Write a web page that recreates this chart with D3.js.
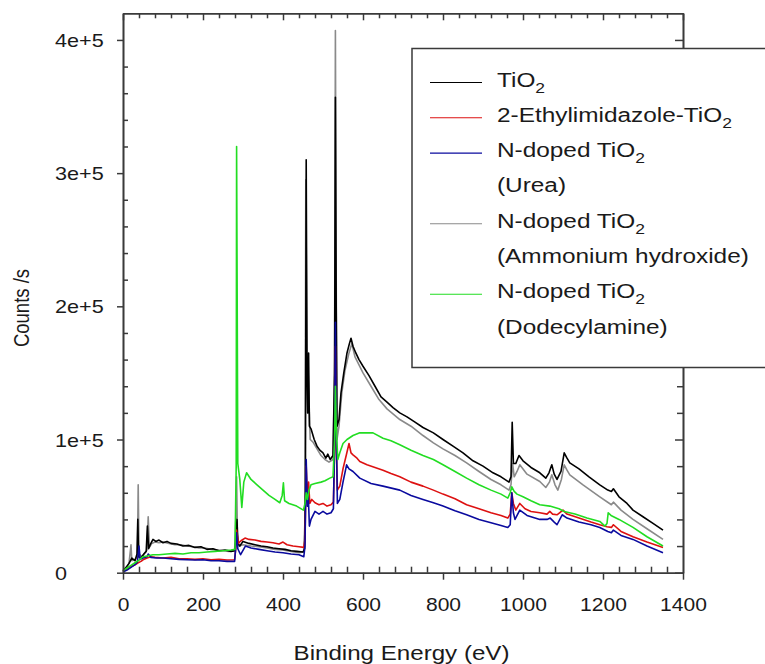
<!DOCTYPE html>
<html><head><meta charset="utf-8">
<script src="https://cdn.jsdelivr.net/npm/d3@7"></script>
<style>
body{margin:0;background:#fff}
svg{display:block}
text{font-family:"Liberation Sans",Arial,sans-serif;fill:#1a1a1a}
</style>
</head><body>
<svg id="c" width="765" height="664"></svg>
<script>
// ---------------- data (binding energy eV, counts/s) ----------------
const tio2 = [[0,1500],[8,4000],[15,7000],[22,11000],[30,9000],[35,14000],[37,40000],[39,12000],[45,11000],[52,14000],[58,16000],[61,35000],[64,18000],[68,21000],[75,25000],[82,23500],[90,24500],[100,22500],[110,23500],[120,22000],[135,21500],[150,20000],[165,20500],[180,19000],[195,19500],[210,17500],[225,18000],[240,16500],[255,17000],[270,16000],[280,16500],[283,30000],[285,40000],[287,22000],[292,20000],[300,23500],[315,22000],[330,21000],[345,20000],[360,19500],[375,18500],[390,18000],[405,17500],[420,16500],[435,16000],[450,15500],[454,18000],[456,60000],[458,310000],[460,150000],[462,120000],[464,165000],[466,110000],[470,108000],[478,100000],[485,95000],[492,92000],[500,90000],[507,86000],[512,89000],[518,85000],[525,88000],[529,150000],[531,357000],[533,200000],[535,110000],[540,115000],[545,135000],[552,150000],[560,165000],[566,172000],[570,176000],[575,170000],[582,165000],[590,160000],[600,155000],[615,148000],[630,140000],[645,132000],[660,128000],[675,124000],[692,120000],[710,117000],[730,113000],[750,109000],[776,105000],[800,100000],[825,95000],[850,90000],[875,84000],[900,80000],[925,75000],[945,72000],[965,68000],[970,72000],[973,113000],[976,82000],[982,82000],[990,88000],[1000,84000],[1020,79000],[1042,75000],[1057,71000],[1065,75000],[1072,81000],[1078,74000],[1085,70000],[1095,76000],[1103,90000],[1110,86000],[1117,82500],[1140,78000],[1165,72000],[1192,66000],[1212,62000],[1221,61000],[1226,63000],[1240,57000],[1260,52000],[1275,47000],[1300,42000],[1325,37000],[1350,32000]];

const ethylimidazole = [[0,1000],[10,2500],[20,4500],[30,6000],[38,7500],[45,8500],[50,9700],[60,11000],[70,12000],[80,11500],[100,11000],[120,11500],[140,10500],[160,10500],[180,10000],[200,10500],[220,9700],[240,10000],[260,9500],[279,9700],[282,18000],[284,32000],[288,22000],[295,24000],[305,26000],[315,25000],[330,24500],[345,23500],[360,23000],[375,22500],[390,21500],[400,23000],[410,21000],[425,20000],[440,19500],[452,19000],[455,25000],[458,80000],[461,55000],[464,68000],[467,52000],[472,55000],[480,52500],[490,51000],[500,52000],[510,50000],[520,51000],[526,53000],[529,90000],[531,170000],[533,100000],[536,62000],[542,65000],[550,78000],[558,88000],[565,97000],[570,90000],[575,88500],[585,86000],[592,83500],[610,81000],[630,79000],[650,77000],[670,74500],[692,72000],[720,68000],[750,65000],[776,62000],[800,59000],[830,55500],[859,51000],[890,48000],[920,45000],[945,43000],[962,41000],[968,44000],[972,60000],[976,52000],[982,47000],[992,52000],[1005,48000],[1020,46000],[1042,45000],[1060,44000],[1067,46000],[1074,44000],[1085,43500],[1100,47000],[1110,44000],[1140,41000],[1170,38000],[1192,36000],[1210,34500],[1221,34000],[1226,36000],[1245,31000],[1275,27000],[1310,23000],[1350,19000]];

const urea = [[0,500],[10,2000],[20,4000],[30,6000],[36,8000],[40,20000],[43,10000],[50,11000],[60,12000],[63,14000],[70,11500],[85,11000],[100,11000],[120,10500],[140,10000],[160,9700],[180,9500],[200,9700],[220,9000],[240,9000],[260,8500],[279,8500],[282,20000],[284,30000],[287,18000],[294,13500],[306,20000],[320,18500],[340,17500],[360,16500],[380,15500],[400,15000],[420,14000],[440,13500],[452,12000],[455,20000],[458,85000],[461,50000],[463,60000],[466,35000],[470,40000],[480,46000],[490,44000],[500,46000],[510,44000],[520,45000],[526,48000],[529,100000],[531,188000],[533,110000],[536,52000],[542,55000],[550,68000],[559,81000],[565,78000],[575,76000],[592,71000],[620,67000],[650,65000],[692,62000],[720,58000],[750,55000],[776,52500],[800,50000],[830,46500],[859,43500],[890,40000],[920,37500],[945,35500],[962,34000],[968,36000],[972,60000],[976,45000],[980,40000],[992,47000],[1010,43000],[1042,40000],[1060,40000],[1068,41000],[1078,38000],[1085,36000],[1098,43500],[1110,41000],[1140,38000],[1170,36000],[1192,34000],[1212,31000],[1221,30000],[1226,32000],[1245,28000],[1275,25000],[1310,20000],[1350,15000]];

const ammonium = [[0,1500],[8,4000],[15,7000],[20,21000],[22,9000],[30,10000],[36,12000],[38,66000],[40,14000],[48,12000],[55,15000],[60,17000],[63,42000],[66,19000],[72,22000],[80,23000],[90,22500],[100,23000],[115,22000],[130,21000],[145,21000],[160,20000],[175,19500],[190,18500],[205,18500],[220,17500],[235,17000],[250,16500],[265,16000],[279,16500],[282,40000],[284,72000],[286,30000],[290,20000],[300,21000],[320,20000],[340,19500],[360,18500],[380,17500],[400,17000],[420,16000],[440,15000],[452,15500],[455,40000],[457,295000],[459,200000],[461,120000],[463,150000],[465,130000],[468,100000],[475,98000],[485,93000],[495,88000],[505,85000],[515,83000],[525,85000],[529,160000],[531,407000],[533,220000],[535,100000],[540,110000],[547,135000],[555,152000],[565,165000],[572,172000],[580,162000],[590,156000],[600,150000],[620,140000],[640,130000],[660,123000],[692,115000],[720,110000],[750,103000],[776,97500],[800,93000],[830,88000],[859,82500],[890,76000],[920,70000],[945,66000],[965,62000],[970,66000],[974,82000],[978,72000],[985,76000],[992,81000],[1010,74000],[1042,68500],[1057,64000],[1066,68000],[1072,73500],[1080,66000],[1087,62000],[1096,70000],[1103,81000],[1110,77000],[1117,73500],[1150,66000],[1192,57000],[1221,51000],[1226,53000],[1245,47000],[1275,40000],[1310,33000],[1350,25000]];

const dodecylamine = [[0,1500],[10,3500],[20,5500],[30,7500],[40,9500],[50,12000],[60,12500],[75,13500],[90,13500],[110,14000],[130,14500],[150,14000],[170,15000],[190,15000],[210,15500],[230,16000],[250,16500],[270,17000],[280,17500],[283,80000],[284,320000],[285,243000],[287,82000],[292,70000],[297,49000],[302,68000],[309,75000],[320,70000],[335,66000],[350,62000],[365,58000],[380,55000],[392,52500],[398,58000],[401,67500],[404,54000],[415,52000],[434,50000],[451,47000],[455,52000],[458,60000],[461,55000],[465,62000],[470,66000],[480,67000],[495,68000],[505,69000],[517,71000],[525,72000],[529,100000],[531,140000],[533,110000],[537,85000],[542,90000],[550,97000],[560,100000],[575,103000],[592,105000],[610,105000],[625,105000],[650,101000],[670,99000],[692,96000],[720,92000],[750,88000],[776,85000],[800,81000],[830,76000],[859,71000],[890,66000],[920,62000],[945,59000],[962,56000],[968,60000],[972,64500],[978,61000],[985,59000],[1000,57000],[1020,54000],[1042,51000],[1067,50000],[1090,48000],[1103,46000],[1130,44000],[1160,41000],[1192,38500],[1205,35000],[1210,37000],[1213,45000],[1220,43000],[1240,40000],[1275,34000],[1310,27000],[1350,20000]];

const seriesNames = ["TiO2","2-Ethylimidazole-TiO2","N-doped TiO2 (Urea)","N-doped TiO2 (Ammonium hydroxide)","N-doped TiO2 (Dodecylamine)"];
const xTicks = [0,200,400,600,800,1000,1200,1400];
const yTicks = [0,100000,200000,300000,400000];
const yTickLabels = ["0","1e+5","2e+5","3e+5","4e+5"];
const xLabel = "Binding Energy (eV)";
const yLabel = "Counts /s";
// legend text lines: [main, subscript] pairs per line
const legendLines = [
  [["TiO","2"]],
  [["2-Ethylimidazole-TiO","2"]],
  [["N-doped TiO","2"],["(Urea)",""]],
  [["N-doped TiO","2"],["(Ammonium hydroxide)",""]],
  [["N-doped TiO","2"],["(Dodecylamine)",""]]
];

// ---------------- layout ----------------
const colors = ["#000000","#dd1111","#0a0a9e","#8a8a8a","#22dd22"];
const svg = d3.select("#c");
const L=123, R=683, T=13.3, B=572.7;
const x = d3.scaleLinear().domain([0,1400]).range([L,R]);
const y = d3.scaleLinear().domain([0,420000]).range([B,T]);

const data = [tio2, ethylimidazole, urea, ammonium, dodecylamine];
const line = d3.line().x(d=>x(d[0])).y(d=>y(d[1]));
const drawOrder = [3,0,1,2,4];
const lg = svg.append("g");
drawOrder.forEach(i=>{
  lg.append("path").datum(data[i]).attr("d",line)
    .attr("fill","none").attr("stroke",colors[i]).attr("stroke-width",1.6)
    .attr("stroke-linejoin","round");
});

// ---------------- axes ----------------
const axisColor="#3a3a3a";
function styleAxis(g){
  g.selectAll("path,line").attr("stroke",axisColor).attr("stroke-width",1.5);
  g.select(".domain").attr("stroke-width",1.6);
}
const xMinor = xTicks.slice(0,-1).flatMap(t=>[t+40,t+80,t+120,t+160]);
const yMinor = yTicks.flatMap(t=>[t+20000,t+40000,t+60000,t+80000]).filter(v=>v<420000);

// bottom
svg.append("g").attr("transform",`translate(0,${B})`)
  .call(d3.axisBottom(x).tickValues(xMinor).tickSize(-6).tickSizeOuter(0).tickFormat(""))
  .call(styleAxis);
const xb = svg.append("g").attr("transform",`translate(0,${B})`)
  .call(d3.axisBottom(x).tickValues(xTicks).tickSize(7).tickSizeOuter(0).tickFormat(d3.format("d")))
  .call(styleAxis);
xb.selectAll("text").attr("y",0).attr("dy",null)
  .attr("transform","translate(0,38.5) scale(1.17,1)")
  .style("font-size","18px").attr("fill","#1a1a1a");
// top
svg.append("g").attr("transform",`translate(0,${T})`)
  .call(d3.axisTop(x).tickValues(xMinor).tickSize(-5).tickSizeOuter(0).tickFormat(""))
  .call(styleAxis);
svg.append("g").attr("transform",`translate(0,${T})`)
  .call(d3.axisTop(x).tickValues(xTicks).tickSize(-7).tickSizeOuter(0).tickFormat(""))
  .call(styleAxis);
// left
svg.append("g").attr("transform",`translate(${L},0)`)
  .call(d3.axisLeft(y).tickValues(yMinor).tickSize(-5).tickSizeOuter(0).tickFormat(""))
  .call(styleAxis);
const yl = svg.append("g").attr("transform",`translate(${L},0)`)
  .call(d3.axisLeft(y).tickValues(yTicks).tickSize(6).tickSizeOuter(0).tickFormat((d,i)=>yTickLabels[i]))
  .call(styleAxis);
yl.selectAll("text").attr("x",0).attr("dy",null).attr("text-anchor","start")
  .attr("transform",`translate(${55-L},6.5) scale(1.2,1)`)
  .style("font-size","18px").attr("fill","#1a1a1a");
// right
svg.append("g").attr("transform",`translate(${R},0)`)
  .call(d3.axisRight(y).tickValues(yMinor).tickSize(-6).tickSizeOuter(0).tickFormat(""))
  .call(styleAxis);
svg.append("g").attr("transform",`translate(${R},0)`)
  .call(d3.axisRight(y).tickValues(yTicks).tickSize(-8).tickSizeOuter(0).tickFormat(""))
  .call(styleAxis);

// axis titles
svg.append("text").text(xLabel)
  .attr("text-anchor","middle").attr("transform","translate(401.5,660) scale(1.15,1)")
  .style("font-size","21px");
svg.append("text").text(yLabel)
  .attr("text-anchor","middle").attr("transform","translate(29,308) scale(1.2,1) rotate(-90)")
  .style("font-size","18.5px");

// ---------------- legend ----------------
const leg = svg.append("g");
leg.append("rect").attr("x",412).attr("y",48.5).attr("width",360).attr("height",319)
  .attr("fill","#fff").attr("stroke","#3a3a3a").attr("stroke-width",1.5);
let row = 0;
const base0 = 86.5, rowH = 35.3;
legendLines.forEach((lines,i)=>{
  const by = base0 + row*rowH;
  leg.append("line").attr("x1",430).attr("x2",482).attr("y1",by-4).attr("y2",by-4)
    .attr("stroke",colors[i]).attr("stroke-width",1.1);
  lines.forEach((seg)=>{
    const yy = base0 + row*rowH;
    const t = leg.append("text").attr("transform",`translate(497,${yy}) scale(1.25,1)`)
      .style("font-size","19.5px");
    t.append("tspan").text(seg[0]);
    if(seg[1]) t.append("tspan").text(seg[1]).attr("dy",6).style("font-size","14px");
    row++;
  });
});
</script>
</body></html>
